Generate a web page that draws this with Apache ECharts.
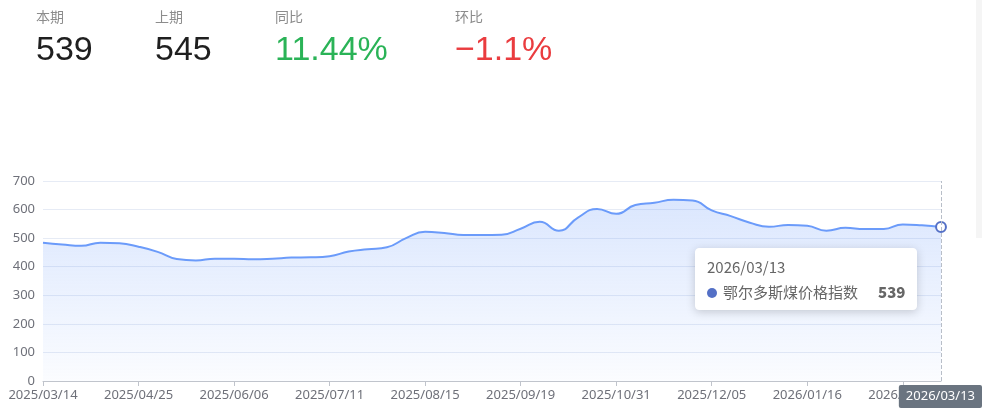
<!DOCTYPE html>
<html>
<head>
<meta charset="utf-8">
<script src="https://cdn.jsdelivr.net/npm/echarts@6/dist/echarts.min.js"></script>
<style>
  html, body { margin: 0; padding: 0; background: #fff; }
  #wrap { position: relative; width: 982px; height: 415px; overflow: hidden; }
  #chart { position: absolute; left: 0; top: 0; width: 982px; height: 415px; }
  .kpi { position: absolute; z-index: 5; font-family: 'Liberation Sans', 'Noto Sans CJK SC', sans-serif; }
  .kpi .lab { position: absolute; top: 8px; left: 0; font-size: 14px; line-height: 16px; color: #8c8c8c; white-space: nowrap; font-family: 'Noto Sans CJK SC', sans-serif; }
  .kpi .val { position: absolute; top: 31px; left: 0; font-size: 34px; line-height: 34px; white-space: nowrap; color: #1f1f1f; }
  #edge { position: absolute; left: 976px; top: 0; width: 6px; height: 238px; background: #f5f5f5; z-index: 4; }
</style>
</head>
<body>
<div id="wrap">
  <div id="chart"></div>
  <div id="edge"></div>
  <div class="kpi" style="left:36px"><div class="lab" id="l0"></div><div class="val" id="v0"></div></div>
  <div class="kpi" style="left:155px"><div class="lab" id="l1"></div><div class="val" id="v1"></div></div>
  <div class="kpi" style="left:275px"><div class="lab" id="l2"></div><div class="val" id="v2" style="color:#2ab357"></div></div>
  <div class="kpi" style="left:455px"><div class="lab" id="l3"></div><div class="val" id="v3" style="color:#ea3c3f"></div></div>
</div>
<script>
// KPI header
const kpiLabels = ['本期', '上期', '同比', '环比'];
const kpiValues = ['539', '545', '11.44%', '\u22121.1%'];

// Categories (weekly dates)
const dates = [
  '2025/03/14','2025/03/21','2025/03/28','2025/04/11','2025/04/18','2025/04/25',
  '2025/05/09','2025/05/16','2025/05/23','2025/05/30','2025/06/06',
  '2025/06/13','2025/06/20','2025/06/27','2025/07/04','2025/07/11',
  '2025/07/18','2025/07/25','2025/08/01','2025/08/08','2025/08/15',
  '2025/08/22','2025/08/29','2025/09/05','2025/09/12','2025/09/19',
  '2025/09/26','2025/10/10','2025/10/17','2025/10/24','2025/10/31',
  '2025/11/07','2025/11/14','2025/11/21','2025/11/28','2025/12/05',
  '2025/12/12','2025/12/19','2025/12/26','2026/01/09','2026/01/16',
  '2026/01/23','2026/01/30','2026/02/06','2026/02/13','2026/02/27',
  '2026/03/06','2026/03/13'
];

// Series values
const seriesName = '鄂尔多斯煤价格指数';
const values = [
  484, 478, 473, 484, 482, 470,
  452, 427, 422, 428, 428,
  426, 428, 432, 433, 437,
  453, 461, 468, 500, 522,
  518, 511, 511, 512, 533,
  557, 526, 572, 602, 585,
  616, 624, 634, 632, 597,
  577, 554, 540, 546, 543,
  526, 536, 532, 532, 548,
  545, 539
];

// Y ticks
const yTicks = [0, 100, 200, 300, 400, 500, 600, 700];

for (let i = 0; i < 4; i++) {
  document.getElementById('l' + i).textContent = kpiLabels[i];
  document.getElementById('v' + i).textContent = kpiValues[i];
}

const chart = echarts.init(document.getElementById('chart'), null, { renderer: 'canvas' });
const lastIdx = values.length - 1;
const axisFont = "'Noto Sans', 'Noto Sans CJK SC', sans-serif";

chart.setOption({
  animation: false,
  grid: { left: 43, right: 41, top: 181, bottom: 34, containLabel: false },
  tooltip: {
    trigger: 'axis',
    triggerOn: 'none',
    alwaysShowContent: true,
    position: [695, 248],
    backgroundColor: '#fff',
    borderColor: '#fff',
    borderWidth: 1,
    padding: [10, 11, 10, 11],
    extraCssText: 'box-shadow: 0 2px 10px rgba(0,0,0,0.18); border-radius: 4px;',
    textStyle: { fontFamily: "'Noto Sans CJK SC', sans-serif", fontSize: 15, color: '#666' },
    axisPointer: { type: 'none' }
  },
  xAxis: {
    type: 'category',
    data: dates,
    boundaryGap: false,
    axisLine: { lineStyle: { color: '#c0c4cc' } },
    axisTick: { show: true, interval: 4, length: 5, lineStyle: { color: '#c0c4cc' } },
    axisLabel: { interval: 4, color: '#6e7079', fontSize: 13, fontFamily: axisFont, margin: 8 },
    splitLine: { show: false },
    axisPointer: {
      show: true,
      status: 'show',
      value: dates[lastIdx],
      type: 'line',
      triggerTooltip: false,
      lineStyle: { color: '#b8bec8', type: 'dashed', width: 1 },
      label: {
        show: true,
        backgroundColor: '#6a7480',
        color: '#fff',
        fontSize: 13,
        fontFamily: axisFont,
        padding: [5, 7, 5, 7],
        margin: 4,
        borderRadius: 2
      }
    }
  },
  yAxis: {
    type: 'value',
    min: yTicks[0],
    max: yTicks[yTicks.length - 1],
    interval: yTicks[1] - yTicks[0],
    axisLine: { show: false },
    axisTick: { show: false },
    axisLabel: { color: '#6e7079', fontSize: 13, fontFamily: axisFont, margin: 8 },
    splitLine: { lineStyle: { color: '#e6ebf5' } }
  },
  series: [{
    name: seriesName,
    type: 'line',
    data: values,
    smooth: true,
    color: '#5470c6',
    showSymbol: true,
    symbol: 'emptyCircle',
    symbolSize: function (v, p) { return p.dataIndex === lastIdx ? 9 : 0; },
    itemStyle: { color: '#5470c6', borderColor: '#5470c6', borderWidth: 2 },
    lineStyle: { color: '#6b9bfa', width: 2 },
    areaStyle: {
      color: new echarts.graphic.LinearGradient(0, 0, 0, 1, [
        { offset: 0, color: 'rgba(107,155,250,0.35)' },
        { offset: 1, color: 'rgba(107,155,250,0.04)' }
      ])
    },
    emphasis: { disabled: true }
  }]
});

chart.dispatchAction({ type: 'showTip', seriesIndex: 0, dataIndex: lastIdx });
</script>
</body>
</html>
